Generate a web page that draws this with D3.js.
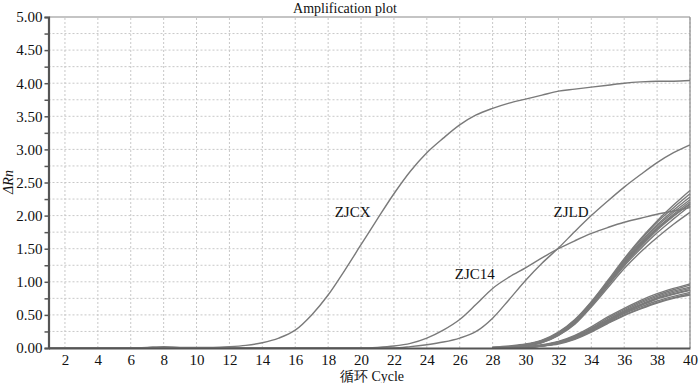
<!DOCTYPE html>
<html>
<head>
<meta charset="utf-8">
<script src="https://cdn.jsdelivr.net/npm/d3@7"></script>
<style>
  body { margin: 0; background: #fff; }
  svg text { font-family: "Liberation Serif", "Times New Roman", serif; fill: #111; }
</style>
</head>
<body>
<div id="chart"></div>
<script>
// x ticks and y ticks
var xTicks = [2, 4, 6, 8, 10, 12, 14, 16, 18, 20, 22, 24, 26, 28, 30, 32, 34, 36, 38, 40];
var yTicks = [0, 0.5, 1, 1.5, 2, 2.5, 3, 3.5, 4, 4.5, 5];

// labelled samples, cycles 1..40
var cyclesFull = d3.range(1, 41);
var zjcx = [0, 0, 0, 0, 0, 0, 0.01, 0.02, 0.01, 0.01,
    0.01, 0.02, 0.04, 0.08, 0.15, 0.27, 0.5, 0.8, 1.17, 1.56,
    1.95, 2.33, 2.67, 2.95, 3.17, 3.37, 3.52, 3.62, 3.7, 3.76,
    3.82, 3.88, 3.91, 3.94, 3.97, 4.0, 4.02, 4.03, 4.03, 4.04];
var zjc14 = [0, 0, 0, 0, 0, 0, 0, 0, 0, 0,
    0, 0, 0, 0, 0, 0, 0, 0, 0, 0,
    0.01, 0.03, 0.07, 0.15, 0.27, 0.43, 0.66, 0.9, 1.07, 1.21,
    1.36, 1.5, 1.62, 1.73, 1.82, 1.9, 1.96, 2.02, 2.07, 2.12];
var zjld = [0, 0, 0, 0, 0, 0, 0, 0, 0, 0,
    0, 0, 0, 0, 0, 0, 0, 0, 0, 0,
    0, 0, 0.02, 0.05, 0.09, 0.15, 0.25, 0.45, 0.73, 1.02,
    1.28, 1.51, 1.76, 2.0, 2.22, 2.43, 2.62, 2.8, 2.95, 3.07];

// unlabelled samples, cycles 28..40
var cyclesLate = d3.range(28, 41);
var upperGroup = [
    [0.01, 0.03, 0.06, 0.12, 0.24, 0.43, 0.70, 1.02, 1.35, 1.65, 1.92, 2.16, 2.38],
    [0.01, 0.02, 0.05, 0.11, 0.23, 0.42, 0.69, 1.00, 1.33, 1.63, 1.90, 2.12, 2.33],
    [0.01, 0.02, 0.05, 0.10, 0.22, 0.41, 0.68, 0.99, 1.31, 1.60, 1.86, 2.08, 2.28],
    [0.00, 0.02, 0.04, 0.10, 0.21, 0.40, 0.67, 0.98, 1.30, 1.58, 1.84, 2.05, 2.24],
    [0.00, 0.02, 0.04, 0.09, 0.20, 0.39, 0.66, 0.97, 1.28, 1.56, 1.81, 2.02, 2.21],
    [0.00, 0.01, 0.04, 0.09, 0.20, 0.38, 0.65, 0.95, 1.26, 1.53, 1.78, 1.99, 2.18],
    [0.00, 0.01, 0.03, 0.08, 0.19, 0.37, 0.64, 0.94, 1.24, 1.50, 1.74, 1.95, 2.15],
    [0.00, 0.01, 0.03, 0.08, 0.19, 0.36, 0.62, 0.91, 1.20, 1.45, 1.67, 1.87, 2.05],
    [0.01, 0.02, 0.05, 0.11, 0.22, 0.40, 0.66, 0.96, 1.27, 1.55, 1.80, 2.00, 2.17]
];
var lowerGroup = [
    [0.00, 0.01, 0.02, 0.05, 0.10, 0.19, 0.32, 0.47, 0.60, 0.72, 0.82, 0.90, 0.97],
    [0.00, 0.01, 0.02, 0.04, 0.09, 0.18, 0.30, 0.45, 0.58, 0.70, 0.80, 0.88, 0.95],
    [0.00, 0.01, 0.02, 0.04, 0.09, 0.17, 0.29, 0.43, 0.56, 0.68, 0.78, 0.86, 0.92],
    [0.00, 0.01, 0.02, 0.04, 0.08, 0.16, 0.28, 0.42, 0.55, 0.66, 0.76, 0.84, 0.90],
    [0.00, 0.00, 0.01, 0.03, 0.08, 0.15, 0.27, 0.40, 0.53, 0.64, 0.74, 0.81, 0.87],
    [0.00, 0.00, 0.01, 0.03, 0.07, 0.15, 0.26, 0.39, 0.52, 0.62, 0.71, 0.78, 0.84],
    [0.00, 0.00, 0.01, 0.03, 0.07, 0.14, 0.25, 0.38, 0.50, 0.60, 0.69, 0.76, 0.82],
    [0.00, 0.00, 0.01, 0.03, 0.06, 0.13, 0.24, 0.37, 0.49, 0.59, 0.68, 0.75, 0.80],
    [0.00, 0.01, 0.02, 0.04, 0.08, 0.16, 0.27, 0.41, 0.54, 0.65, 0.75, 0.82, 0.88]
];

var labels = [
    { name: "ZJCX", cycle: 18.4, value: 1.98 },
    { name: "ZJC14", cycle: 25.7, value: 1.04 },
    { name: "ZJLD", cycle: 31.7, value: 1.98 }
];

var width = 700, height = 383;
var margin = { top: 17, right: 10, bottom: 35, left: 48.5 };

var svg = d3.select("#chart").append("svg")
    .attr("width", width)
    .attr("height", height);

var x = d3.scaleLinear().domain([1, 40]).range([margin.left, width - margin.right]);
var y = d3.scaleLinear().domain([0, 5]).range([height - margin.bottom, margin.top]);

// grid
var grid = svg.append("g");
grid.selectAll(".vg")
    .data(xTicks)
    .enter().append("line")
    .attr("x1", function (d) { return x(d); })
    .attr("x2", function (d) { return x(d); })
    .attr("y1", y(0))
    .attr("y2", y(5))
    .attr("stroke", "#c8c8c8")
    .attr("stroke-dasharray", "2,2");
grid.selectAll(".hg")
    .data(d3.range(0.25, 5, 0.25))
    .enter().append("line")
    .attr("x1", x(1))
    .attr("x2", x(40))
    .attr("y1", function (d) { return y(d); })
    .attr("y2", function (d) { return y(d); })
    .attr("stroke", "#c8c8c8")
    .attr("stroke-dasharray", "2,2");

// frame top and right
svg.append("line").attr("x1", x(1)).attr("x2", x(40)).attr("y1", y(5)).attr("y2", y(5))
    .attr("stroke", "#8a8a8a").attr("stroke-width", 1.2);
svg.append("line").attr("x1", x(40)).attr("x2", x(40)).attr("y1", y(5)).attr("y2", y(0))
    .attr("stroke", "#8a8a8a").attr("stroke-width", 1.2);

// curves
var line = d3.line()
    .x(function (d) { return x(d[0]); })
    .y(function (d) { return y(d[1]); })
    .curve(d3.curveMonotoneX);

function pairs(cycles, vals) {
    return cycles.map(function (c, i) { return [c, vals[i]]; });
}

var curves = [];
lowerGroup.forEach(function (v) { curves.push(pairs(cyclesLate, v)); });
upperGroup.forEach(function (v) { curves.push(pairs(cyclesLate, v)); });
curves.push(pairs(cyclesFull, zjc14));
curves.push(pairs(cyclesFull, zjld));
curves.push(pairs(cyclesFull, zjcx));

svg.append("g").selectAll("path")
    .data(curves)
    .enter().append("path")
    .attr("d", line)
    .attr("fill", "none")
    .attr("stroke", "#7a7a7a")
    .attr("stroke-width", 1.4);

// axes
var yAxis = d3.axisLeft(y)
    .tickValues(d3.range(0, 5.01, 0.25))
    .tickSize(4)
    .tickFormat(function (d) { return (Math.round(d * 100) % 50 === 0) ? d3.format(".2f")(d) : ""; });
var gy = svg.append("g")
    .attr("transform", "translate(" + x(1) + ",0)")
    .call(yAxis);
gy.select(".domain").attr("stroke", "#555").attr("stroke-width", 2.2);
gy.selectAll(".tick line").attr("stroke", "#555").attr("stroke-width", 1.5);
gy.selectAll(".tick text")
    .attr("x", -6)
    .attr("font-size", 15)
    .attr("font-family", "Liberation Serif, serif")
    .attr("fill", "#111");

var xAxis = d3.axisBottom(x)
    .tickValues(xTicks)
    .tickSize(0)
    .tickPadding(6);
var gx = svg.append("g")
    .attr("transform", "translate(0," + y(0) + ")")
    .call(xAxis);
gx.select(".domain").attr("stroke", "#555").attr("stroke-width", 2.2);
gx.selectAll(".tick text")
    .attr("font-size", 15)
    .attr("font-family", "Liberation Serif, serif")
    .attr("fill", "#111");

// sample labels
svg.append("g").selectAll("text")
    .data(labels)
    .enter().append("text")
    .attr("x", function (d) { return x(d.cycle); })
    .attr("y", function (d) { return y(d.value); })
    .attr("font-size", 15)
    .text(function (d) { return d.name; });

// titles
svg.append("text")
    .attr("x", 345)
    .attr("y", 13)
    .attr("text-anchor", "middle")
    .attr("font-size", 14)
    .text("Amplification plot");

svg.append("text")
    .attr("transform", "translate(13,182) rotate(-90)")
    .attr("text-anchor", "middle")
    .attr("font-size", 14)
    .attr("font-style", "italic")
    .text("ΔRn");

svg.append("text")
    .attr("x", 372)
    .attr("y", 381)
    .attr("text-anchor", "middle")
    .attr("font-size", 14)
    .attr("font-family", "Noto Sans CJK SC, Liberation Serif, serif")
    .text("循环  Cycle");
</script>
</body>
</html>
